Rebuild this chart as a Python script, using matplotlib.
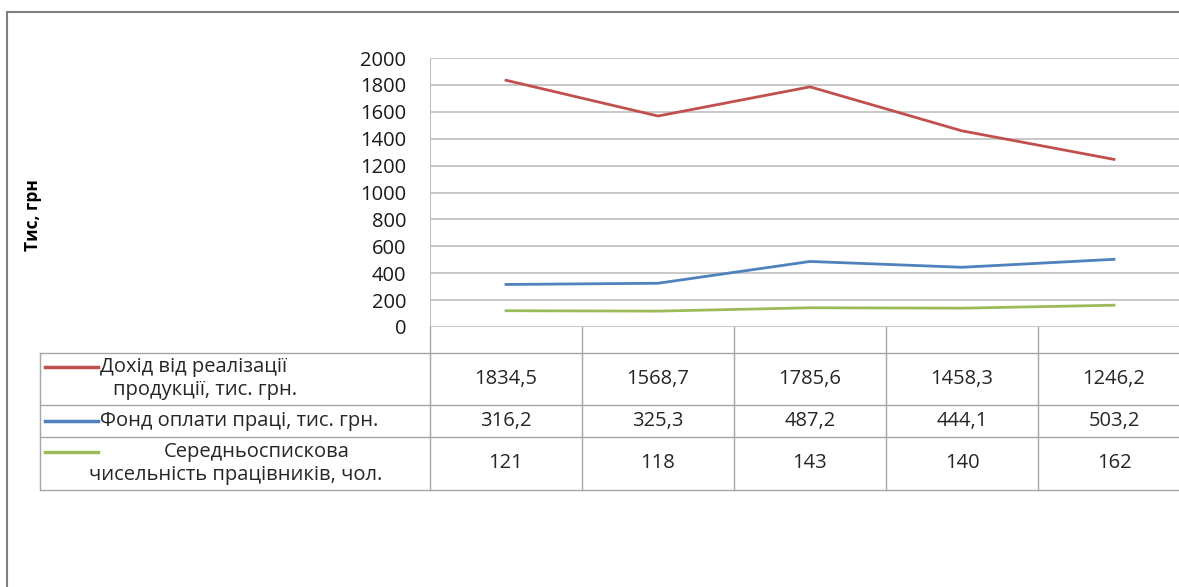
import matplotlib.pyplot as plt
from matplotlib.patches import Rectangle

plt.rcParams['font.family'] = ['Open Sans', 'DejaVu Sans']

categories = ['', '', '', '', '']
series_names = ['Дохід від реалізації\nпродукції, тис. грн.',
                'Фонд оплати праці, тис. грн.',
                'Середньоспискова\nчисельність працівників, чол.']
revenue = [1834.5, 1568.7, 1785.6, 1458.3, 1246.2]
wage_fund = [316.2, 325.3, 487.2, 444.1, 503.2]
staff = [121, 118, 143, 140, 162]
revenue_txt = ['1834,5', '1568,7', '1785,6', '1458,3', '1246,2']
wage_txt = ['316,2', '325,3', '487,2', '444,1', '503,2']
staff_txt = ['121', '118', '143', '140', '162']
yticks = [0, 200, 400, 600, 800, 1000, 1200, 1400, 1600, 1800, 2000]

colors = ['#C0504D', '#4F81BD', '#9BBB59']
W, H = 1179, 587
fig = plt.figure(figsize=(W / 100, H / 100), dpi=100)

# outer chart border (runs off right and bottom edges)
fig.add_artist(Rectangle((7 / W, -0.1), 1.2, 1 - 12 / H + 0.1, transform=fig.transFigure,
                         fill=False, edgecolor='#7f7f7f', lw=1.5))

# plot area in pixel layout
px_left, px_top, px_bottom, col_w = 430, 58, 327, 152
ax = fig.add_axes([px_left / W, 1 - px_bottom / H, col_w * 5 / W, (px_bottom - px_top) / H])
x = range(len(categories))
ax.plot(x, revenue, color=colors[0], lw=2)
ax.plot(x, wage_fund, color=colors[1], lw=2)
ax.plot(x, staff, color=colors[2], lw=2)
ax.set_xlim(-0.5, 4.5)
ax.set_ylim(0, 2000)
ax.set_yticks(yticks)
ax.set_yticklabels([str(v) for v in yticks], fontsize=14.5, color='#1a1a1a')
ax.tick_params(axis='y', length=0, pad=17)
ax.set_xticks([])
ax.yaxis.grid(True, color='#bfbfbf', lw=1.2)
ax.set_axisbelow(True)
for s in ['top', 'right', 'bottom']:
    ax.spines[s].set_visible(False)
ax.spines['left'].set_color('#bfbfbf')

fig.text(33 / W, 1 - 215 / H, 'Тис, грн', rotation=90, fontsize=12.5, fontweight='bold',
         ha='center', va='center')

# data table below the plot, pixel coordinates
tab = fig.add_axes([0, 0, 1, 1])
tab.set_xlim(0, W)
tab.set_ylim(H, 0)
tab.axis('off')
row_edges = [327, 353, 405, 437, 490]
tab_left = 40
col_edges = [px_left + col_w * i for i in range(6)]
gc = '#a6a6a6'
for xe in col_edges:
    tab.plot([xe, xe], [row_edges[0], row_edges[-1]], color=gc, lw=1)
tab.plot([tab_left, tab_left], [row_edges[1], row_edges[-1]], color=gc, lw=1)
for ye in row_edges[1:]:
    tab.plot([tab_left, col_edges[-1]], [ye, ye], color=gc, lw=1)

fs = 14.5
tc = '#262626'
rows = [revenue_txt, wage_txt, staff_txt]
for r, vals in enumerate(rows):
    yc = (row_edges[r + 1] + row_edges[r + 2]) / 2
    for c, v in enumerate(vals):
        tab.text((col_edges[c] + col_edges[c + 1]) / 2, yc, v, fontsize=fs,
                 ha='center', va='center', color=tc)

# row labels with legend keys
tab.plot([45, 98], [367, 367], color=colors[0], lw=2.5)
tab.text(100, 367, series_names[0].split('\n')[0], fontsize=fs, va='center', color=tc)
tab.text(205, 390, series_names[0].split('\n')[1], fontsize=fs, va='center', ha='center', color=tc)
tab.plot([45, 98], [421, 421], color=colors[1], lw=2.5)
tab.text(100, 421, series_names[1], fontsize=fs, va='center', color=tc)
tab.plot([45, 98], [452, 452], color=colors[2], lw=2.5)
tab.text(257, 452, series_names[2].split('\n')[0], fontsize=fs, va='center', ha='center', color=tc)
tab.text(236, 475, series_names[2].split('\n')[1], fontsize=fs, va='center', ha='center', color=tc)

fig.savefig('out.png', dpi=100)
